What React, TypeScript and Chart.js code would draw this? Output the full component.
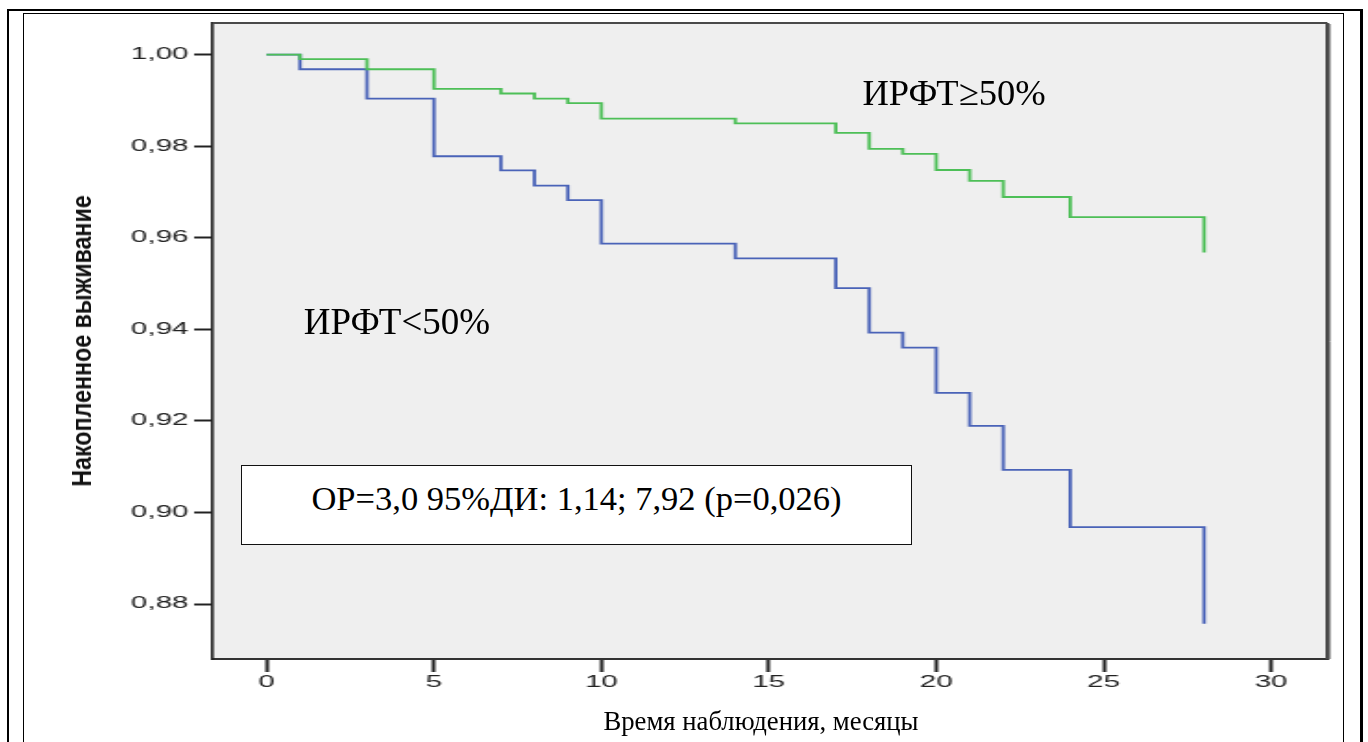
import React, { useEffect, useRef } from "react";
import { Chart, registerables } from "chart.js";

Chart.register(...registerables);

// ---- data ----
const greenTimes = [0, 1, 3, 5, 7, 8, 9, 10, 14, 17, 18, 19, 20, 21, 22, 24, 28];
const greenSurv = [1.0, 0.999, 0.9968, 0.9925, 0.9915, 0.9904, 0.9894, 0.986, 0.985, 0.9829, 0.9794, 0.9783, 0.9748, 0.9724, 0.9689, 0.9645, 0.9568];
const blueTimes = [0, 1, 3, 5, 7, 8, 9, 10, 14, 17, 18, 19, 20, 21, 22, 24, 28];
const blueSurv = [1.0, 0.9968, 0.9904, 0.9778, 0.9747, 0.9714, 0.9682, 0.9587, 0.9555, 0.949, 0.9393, 0.936, 0.9261, 0.9189, 0.9093, 0.8968, 0.8757];
const xTicks = [0, 5, 10, 15, 20, 25, 30];
const yTicks = [0.88, 0.9, 0.92, 0.94, 0.96, 0.98, 1.0];
const seriesLabels = ["ИРФТ≥50%", "ИРФТ<50%"];
const yTitle = "Накопленное выживание";
const xTitle = "Время наблюдения, месяцы";
const statText = "ОР=3,0 95%ДИ: 1,14; 7,92 (р=0,026)";

const GREEN = "#4dbf57";
const BLUE = "#4a63b8";
const INTERNAL_W = 740;
const H = 742;

const plotFrame = {
  id: "plotFrame",
  beforeDraw(chart: any) {
    const { ctx, chartArea: a } = chart;
    ctx.save();
    ctx.fillStyle = "#efefef";
    ctx.fillRect(a.left, a.top, a.right - a.left, a.bottom - a.top);
    ctx.restore();
  },
  afterDraw(chart: any) {
    const { ctx, chartArea: a } = chart;
    ctx.save();
    ctx.strokeStyle = "#4a4a4a";
    ctx.lineWidth = 2;
    ctx.beginPath();
    ctx.moveTo(a.left, a.top);
    ctx.lineTo(a.right, a.top);
    ctx.stroke();
    ctx.beginPath();
    ctx.moveTo(a.right, a.top);
    ctx.lineTo(a.right, a.bottom);
    ctx.stroke();
    ctx.strokeStyle = "#a0a0a0";
    ctx.lineWidth = 1;
    ctx.beginPath();
    ctx.moveTo(a.right + 1.5, a.top + 1);
    ctx.lineTo(a.right + 1.5, a.bottom);
    ctx.stroke();
    ctx.restore();
  },
};

export default function App() {
  const ref = useRef<HTMLCanvasElement>(null);

  useEffect(() => {
    document.body.style.margin = "0";
    const canvas = ref.current;
    if (!canvas) return;
    Chart.defaults.font.family = '"Liberation Sans", Arial, sans-serif';
    const chart = new Chart(canvas, {
      type: "line",
      data: {
        datasets: [
          {
            label: seriesLabels[0],
            data: greenTimes.map((t, i) => ({ x: t, y: greenSurv[i] })),
            borderColor: GREEN,
            borderWidth: 1.8,
            stepped: "before",
            pointRadius: 0,
            fill: false,
          },
          {
            label: seriesLabels[1],
            data: blueTimes.map((t, i) => ({ x: t, y: blueSurv[i] })),
            borderColor: BLUE,
            borderWidth: 1.8,
            stepped: "before",
            pointRadius: 0,
            fill: false,
          },
        ],
      },
      options: {
        responsive: false,
        animation: false,
        devicePixelRatio: 1,
        layout: { padding: { left: 0, top: 23, right: 22, bottom: 0 } },
        plugins: {
          legend: { display: false },
          tooltip: { enabled: false },
          title: { display: false },
        },
        scales: {
          x: {
            type: "linear",
            min: -1.61,
            max: 31.68,
            afterBuildTicks: (s: any) => {
              s.ticks = xTicks.map((v) => ({ value: v }));
            },
            afterFit: (s: any) => {
              s.height = 83;
            },
            grid: {
              drawOnChartArea: false,
              drawTicks: true,
              tickLength: 13,
              tickWidth: 2,
              tickColor: "#222",
            },
            border: { display: true, color: "#333", width: 2 },
            ticks: {
              color: "#222",
              font: { size: 16 },
              padding: 1,
              maxRotation: 0,
              autoSkip: false,
              callback: (v: any) => String(v),
            },
          },
          y: {
            type: "linear",
            min: 0.868,
            max: 1.0069,
            afterBuildTicks: (s: any) => {
              s.ticks = yTicks.map((v) => ({ value: v }));
            },
            afterFit: (s: any) => {
              s.width = 115;
            },
            grid: {
              drawOnChartArea: false,
              drawTicks: true,
              tickLength: 10,
              tickWidth: 2,
              tickColor: "#222",
            },
            border: { display: true, color: "#222", width: 1.6 },
            ticks: {
              color: "#222",
              font: { size: 16 },
              padding: 3,
              autoSkip: false,
              callback: (v: any) => Number(v).toFixed(2).replace(".", ","),
            },
          },
        },
      },
      plugins: [plotFrame],
    } as any);
    return () => chart.destroy();
  }, []);

  const serif = '"Times New Roman", "Liberation Serif", serif';

  return (
    <div style={{ position: "relative", width: 1368, height: H, overflow: "hidden", background: "#fff" }}>
      <style>{"html,body{margin:0;padding:0;}"}</style>
      <div
        style={{
          position: "absolute",
          left: 7,
          top: 9,
          width: 1356,
          height: 900,
          boxSizing: "border-box",
          borderTop: "2px solid #000",
          borderLeft: "2px solid #000",
          borderRight: "3px solid #000",
        }}
      />
      <div
        style={{
          position: "absolute",
          left: 23,
          top: 13,
          width: 1321,
          height: 900,
          boxSizing: "border-box",
          border: "1px solid #000",
        }}
      />
      <canvas
        ref={ref}
        width={INTERNAL_W}
        height={H}
        style={{ position: "absolute", left: 0, top: 0, width: "1368px", height: H + "px", display: "block" }}
      />
      <div
        style={{
          position: "absolute",
          left: 82,
          top: 341,
          transform: "translate(-50%,-50%) rotate(-90deg) scaleX(0.83)",
          font: 'bold 28px "Liberation Sans", Arial, sans-serif',
          color: "#111",
          whiteSpace: "nowrap",
          lineHeight: 1,
        }}
      >
        {yTitle}
      </div>
      <div
        style={{
          position: "absolute",
          left: 761,
          top: 721,
          transform: "translate(-50%,-50%)",
          fontFamily: serif,
          fontSize: 26.7,
          color: "#000",
          whiteSpace: "nowrap",
          lineHeight: 1,
        }}
      >
        {xTitle}
      </div>
      <div
        style={{
          position: "absolute",
          left: 954,
          top: 93,
          transform: "translate(-50%,-50%)",
          fontFamily: serif,
          fontSize: 36.5,
          color: "#000",
          whiteSpace: "nowrap",
          lineHeight: 1,
        }}
      >
        {seriesLabels[0]}
      </div>
      <div
        style={{
          position: "absolute",
          left: 397,
          top: 321,
          transform: "translate(-50%,-50%)",
          fontFamily: serif,
          fontSize: 37,
          color: "#000",
          whiteSpace: "nowrap",
          lineHeight: 1,
        }}
      >
        {seriesLabels[1]}
      </div>
      <div
        style={{
          position: "absolute",
          left: 241,
          top: 465,
          width: 671,
          height: 80,
          boxSizing: "border-box",
          border: "1.5px solid #111",
          background: "#fff",
        }}
      >
        <div
          style={{
            position: "absolute",
            left: "50%",
            top: 32,
            transform: "translate(-50%,-50%)",
            fontFamily: serif,
            fontSize: 34.5,
            color: "#000",
            whiteSpace: "nowrap",
            lineHeight: 1,
          }}
        >
          {statText}
        </div>
      </div>
    </div>
  );
}
